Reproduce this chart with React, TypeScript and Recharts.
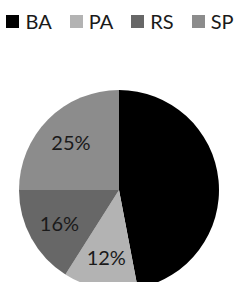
import React from 'react';
import { PieChart, Pie, Cell, Legend } from 'recharts';

const categories = ['BA', 'PA', 'RS', 'SP'];
const shares = [47, 12, 16, 25];
const colors = ['#000000', '#b3b3b3', '#676767', '#8c8c8c'];

const data = categories.map((name, i) => ({ name, value: shares[i] }));

const RAD = Math.PI / 180;

const renderLabel = (props: any) => {
  const { cx, cy, midAngle, outerRadius, value } = props;
  const r = outerRadius * 0.68;
  const x = cx + r * Math.cos(-midAngle * RAD);
  const y = cy + r * Math.sin(-midAngle * RAD);
  if (value > 40) return null;
  return (
    <text x={x} y={y} textAnchor="middle" dominantBaseline="central" fill="#1a1a1a" fontSize={20} fontFamily="Lato">
      {`${value}%`}
    </text>
  );
};

const LegendContent = (props: any) => {
  const { payload } = props;
  return (
    <div style={{ display: 'flex', justifyContent: 'center', fontFamily: 'Lato', fontSize: 20, lineHeight: '24px', color: '#1a1a1a' }}>
      {payload.map((p: any, i: number) => (
        <div key={i} style={{ display: 'flex', alignItems: 'center', marginRight: i < payload.length - 1 ? 18 : 0 }}>
          <div style={{ width: 13, height: 13, background: p.color, marginRight: 6 }} />
          <span>{p.value}</span>
        </div>
      ))}
    </div>
  );
};

export default function App() {
  return (
    <div style={{ position: 'absolute', left: 0, top: 0, width: 240, height: 282, background: '#fff', overflow: 'hidden' }}>
      <PieChart width={240} height={282} margin={{ top: 0, right: 0, bottom: 0, left: 0 }}>
        <Legend verticalAlign="top" align="center" height={24} content={<LegendContent />} wrapperStyle={{ top: 9, left: 0, width: 240 }} />
        <Pie
          data={data}
          dataKey="value"
          nameKey="name"
          cx={119}
          cy={166}
          outerRadius={100}
          startAngle={90}
          endAngle={-270}
          stroke="none"
          label={renderLabel}
          labelLine={false}
          isAnimationActive={false}
        >
          {data.map((d, i) => (
            <Cell key={d.name} fill={colors[i]} />
          ))}
        </Pie>
      </PieChart>
    </div>
  );
}
